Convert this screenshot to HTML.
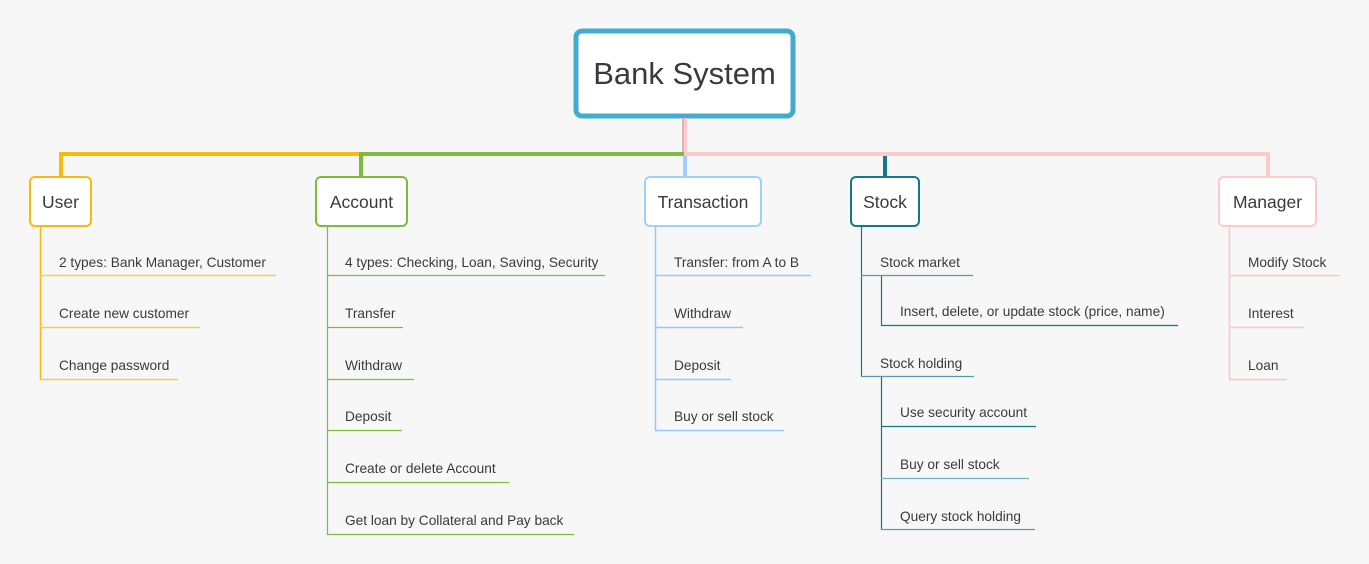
<!DOCTYPE html>
<html><head><meta charset="utf-8"><style>
html,body{margin:0;padding:0;background:#f7f7f7;}
svg{display:block;}
text{font-family:"Liberation Sans",sans-serif;fill:#3a3a3a;}
.c{font-size:13.7px;}
.m{font-size:17.5px;text-anchor:middle;}
</style></head><body>
<svg width="1369" height="564" viewBox="0 0 1369 564">
<rect x="576" y="31" width="217" height="85" rx="6" fill="#fff" stroke="#41acd0" stroke-width="5"/>
<text x="684.5" y="84" font-size="31" text-anchor="middle">Bank System</text>
<rect x="682" y="118" width="5" height="36" fill="#ffcaca"/>
<line x1="683" y1="118" x2="683" y2="154" stroke="#999" stroke-width="0.8"/>
<line x1="61" y1="154" x2="361" y2="154" stroke="#fbb811" stroke-width="4"/>
<line x1="361" y1="154" x2="684" y2="154" stroke="#7dbb3c" stroke-width="4"/>
<line x1="684" y1="154" x2="1268" y2="154" stroke="#ffcaca" stroke-width="4"/>
<line x1="61" y1="152" x2="61" y2="178" stroke="#fbb811" stroke-width="4"/>
<line x1="361" y1="152" x2="361" y2="178" stroke="#7dbb3c" stroke-width="4"/>
<line x1="685" y1="156" x2="685" y2="178" stroke="#a0d0ff" stroke-width="4"/>
<line x1="885" y1="156" x2="885" y2="178" stroke="#13778f" stroke-width="4"/>
<line x1="1268" y1="152" x2="1268" y2="178" stroke="#ffcaca" stroke-width="4"/>
<rect x="30" y="177" width="61" height="49" rx="5" fill="#fff" stroke="#fbb811" stroke-width="2"/>
<text class="m" x="60.5" y="208">User</text>
<rect x="316" y="177" width="91" height="49" rx="5" fill="#fff" stroke="#7dbb3c" stroke-width="2"/>
<text class="m" x="361.5" y="208">Account</text>
<rect x="645" y="177" width="116" height="49" rx="5" fill="#fff" stroke="#a0d0ff" stroke-width="2"/>
<text class="m" x="703" y="208">Transaction</text>
<rect x="851" y="177" width="68" height="49" rx="5" fill="#fff" stroke="#13778f" stroke-width="2"/>
<text class="m" x="885" y="208">Stock</text>
<rect x="1219" y="177" width="97" height="49" rx="5" fill="#fff" stroke="#ffcaca" stroke-width="2"/>
<text class="m" x="1267.5" y="208">Manager</text>

<g stroke="#fbb811" stroke-width="1.5">
<line x1="40.5" y1="226" x2="40.5" y2="380"/>
<line x1="40" y1="275.5" x2="276" y2="275.5" stroke="#fcc94a"/>
<line x1="40" y1="327.5" x2="200" y2="327.5" stroke="#fcc94a"/>
<line x1="40" y1="379.5" x2="178" y2="379.5" stroke="#fcc94a"/>
</g>
<text class="c" x="59" y="267">2 types: Bank Manager, Customer</text>
<text class="c" x="59" y="318">Create new customer</text>
<text class="c" x="59" y="370">Change password</text>

<g stroke="#7dbb3c" stroke-width="1.2">
<line x1="327.5" y1="226" x2="327.5" y2="535"/>
<line x1="327" y1="275.5" x2="605" y2="275.5"/>
<line x1="327" y1="327.5" x2="403" y2="327.5"/>
<line x1="327" y1="379.5" x2="414" y2="379.5"/>
<line x1="327" y1="430.5" x2="402" y2="430.5"/>
<line x1="327" y1="482.5" x2="509" y2="482.5"/>
<line x1="327" y1="534.5" x2="574" y2="534.5"/>
</g>
<text class="c" x="345" y="267">4 types: Checking, Loan, Saving, Security</text>
<text class="c" x="345" y="318">Transfer</text>
<text class="c" x="345" y="370">Withdraw</text>
<text class="c" x="345" y="421">Deposit</text>
<text class="c" x="345" y="473">Create or delete Account</text>
<text class="c" x="345" y="525">Get loan by Collateral and Pay back</text>

<g stroke="#94c8fb" stroke-width="1.5">
<line x1="655.5" y1="226" x2="655.5" y2="431"/>
<line x1="655" y1="275.5" x2="811" y2="275.5"/>
<line x1="655" y1="327.5" x2="743" y2="327.5"/>
<line x1="655" y1="379.5" x2="731" y2="379.5"/>
<line x1="655" y1="430.5" x2="784" y2="430.5"/>
</g>
<text class="c" x="674" y="267">Transfer: from A to B</text>
<text class="c" x="674" y="318">Withdraw</text>
<text class="c" x="674" y="370">Deposit</text>
<text class="c" x="674" y="421">Buy or sell stock</text>

<g stroke="#13778f" stroke-width="1.2">
<line x1="861.5" y1="226" x2="861.5" y2="377"/>
<line x1="861" y1="275.5" x2="973" y2="275.5" stroke="#4f9fae"/>
<line x1="881.5" y1="276" x2="881.5" y2="326"/>
<line x1="881" y1="325.5" x2="1178" y2="325.5"/>
<line x1="861" y1="376.5" x2="974" y2="376.5" stroke="#4f9fae"/>
<line x1="881.5" y1="377" x2="881.5" y2="530"/>
<line x1="881" y1="426.5" x2="1036" y2="426.5"/>
<line x1="881" y1="478.5" x2="1029" y2="478.5" stroke="#6fb0c0"/>
<line x1="881" y1="529.5" x2="1035" y2="529.5" stroke="#4f9fae"/>
</g>
<text class="c" x="880" y="267">Stock market</text>
<text class="c" x="900" y="316">Insert, delete, or update stock (price, name)</text>
<text class="c" x="880" y="368">Stock holding</text>
<text class="c" x="900" y="417">Use security account</text>
<text class="c" x="900" y="469">Buy or sell stock</text>
<text class="c" x="900" y="521">Query stock holding</text>

<g stroke="#ffc4c4" stroke-width="1.5">
<line x1="1229.5" y1="226" x2="1229.5" y2="380"/>
<line x1="1229" y1="275.5" x2="1340" y2="275.5"/>
<line x1="1229" y1="327.5" x2="1304" y2="327.5"/>
<line x1="1229" y1="379.5" x2="1287" y2="379.5"/>
</g>
<text class="c" x="1248" y="267">Modify Stock</text>
<text class="c" x="1248" y="318">Interest</text>
<text class="c" x="1248" y="370">Loan</text>
</svg>
</body></html>
